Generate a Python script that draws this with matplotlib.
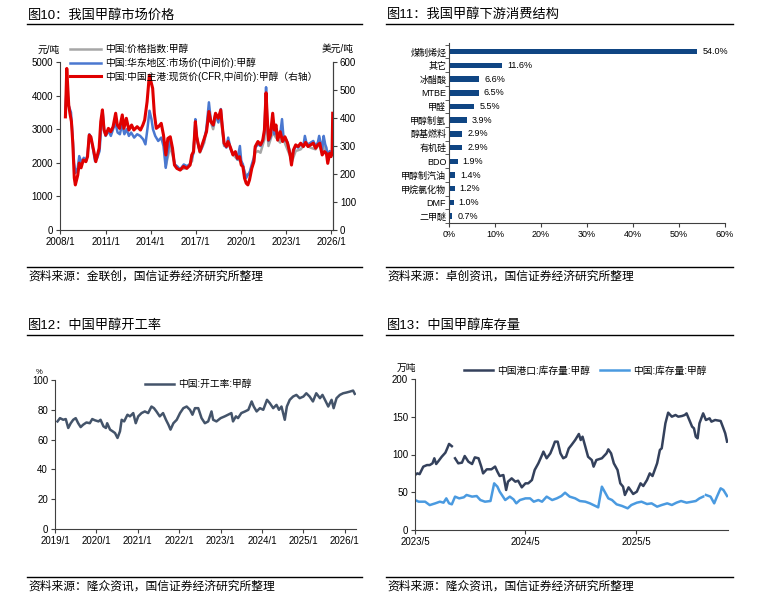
import numpy as np
import matplotlib
matplotlib.use('Agg')
import matplotlib.pyplot as plt
from matplotlib.lines import Line2D

plt.rcParams['font.family'] = ['Liberation Sans', 'Noto Sans CJK SC', 'DejaVu Sans']
plt.rcParams['axes.unicode_minus'] = False

W, H = 761, 602

# ---------------- data: 图10 price ----------------
red_x = [2008.33, 2008.42, 2008.55, 2008.63, 2008.73, 2008.82, 2008.92, 2008.99, 2009.15, 2009.25,
         2009.37, 2009.52, 2009.69, 2009.80, 2009.91, 2010.02, 2010.13, 2010.24, 2010.35, 2010.46,
         2010.57, 2010.68, 2010.79, 2010.90, 2011.01, 2011.19, 2011.34, 2011.50, 2011.67, 2011.78,
         2011.93, 2012.11, 2012.22, 2012.38, 2012.55, 2012.73, 2012.88, 2013.10, 2013.32, 2013.48,
         2013.60, 2013.76, 2013.91, 2014.02, 2014.13, 2014.24, 2014.37, 2014.52, 2014.70, 2014.85,
         2015.01, 2015.14, 2015.30, 2015.45, 2015.58, 2015.74, 2015.96, 2016.18, 2016.40, 2016.62,
         2016.73, 2016.85, 2016.97, 2017.06, 2017.17, 2017.27, 2017.38, 2017.56, 2017.71, 2017.87,
         2018.00, 2018.16, 2018.31, 2018.49, 2018.66, 2018.75, 2018.88, 2019.03, 2019.14, 2019.32,
         2019.47, 2019.63, 2019.76, 2019.91, 2020.02, 2020.13, 2020.24, 2020.35, 2020.46, 2020.57,
         2020.72, 2020.86, 2020.95, 2021.13, 2021.30, 2021.45, 2021.56, 2021.67, 2021.74, 2021.83,
         2021.96, 2022.11, 2022.22, 2022.33, 2022.44, 2022.61, 2022.77, 2022.92, 2023.10, 2023.27,
         2023.36, 2023.49, 2023.64, 2023.80, 2023.97, 2024.15, 2024.30, 2024.46, 2024.63, 2024.81,
         2024.96, 2025.11, 2025.24, 2025.40, 2025.55, 2025.68, 2025.77, 2025.90, 2025.99, 2026.06,
         2026.10]
red_usd = [404, 577, 446, 417, 387, 310, 186, 161, 196, 239,
           222, 250, 244, 262, 339, 333, 304, 275, 244, 268,
           292, 387, 429, 357, 339, 363, 351, 369, 417, 375,
           363, 411, 363, 399, 357, 375, 357, 369, 357, 375,
           393, 458, 553, 530, 506, 417, 363, 369, 381, 339,
           268, 327, 333, 292, 232, 220, 214, 227, 220, 232,
           268, 280, 387, 333, 304, 280, 298, 327, 351, 423,
           387, 375, 417, 399, 429, 375, 310, 298, 316, 292,
           268, 280, 256, 262, 232, 226, 185, 167, 161, 179,
           220, 244, 298, 316, 304, 321, 357, 490, 411, 321,
           339, 417, 357, 375, 321, 351, 316, 333, 310, 268,
           232, 286, 304, 298, 310, 298, 313, 298, 304, 310,
           292, 304, 310, 268, 280, 274, 238, 274, 262, 280,
           417]

blue_x = [2008.33, 2008.42, 2008.55, 2008.70, 2008.82, 2008.90, 2009.00, 2009.15, 2009.25, 2009.40,
          2009.55, 2009.70, 2009.80, 2009.92, 2010.02, 2010.15, 2010.30, 2010.45, 2010.60, 2010.70,
          2010.80, 2010.90, 2011.00, 2011.20, 2011.35, 2011.50, 2011.65, 2011.80, 2011.95, 2012.10,
          2012.25, 2012.40, 2012.55, 2012.70, 2012.90, 2013.10, 2013.30, 2013.50, 2013.65, 2013.78,
          2013.92, 2014.05, 2014.15, 2014.30, 2014.50, 2014.70, 2014.85, 2015.00, 2015.12, 2015.30,
          2015.45, 2015.60, 2015.75, 2015.95, 2016.20, 2016.40, 2016.60, 2016.75, 2016.85, 2016.97,
          2017.06, 2017.17, 2017.27, 2017.40, 2017.56, 2017.70, 2017.87, 2018.00, 2018.15, 2018.30,
          2018.50, 2018.66, 2018.76, 2018.88, 2019.03, 2019.15, 2019.32, 2019.47, 2019.63, 2019.76,
          2019.93, 2020.02, 2020.13, 2020.24, 2020.35, 2020.46, 2020.57, 2020.72, 2020.86, 2020.95,
          2021.13, 2021.30, 2021.45, 2021.56, 2021.67, 2021.74, 2021.83, 2021.96, 2022.11, 2022.22,
          2022.33, 2022.44, 2022.61, 2022.73, 2022.85, 2022.95, 2023.10, 2023.27, 2023.36, 2023.49,
          2023.64, 2023.80, 2023.97, 2024.15, 2024.25, 2024.35, 2024.46, 2024.63, 2024.81, 2024.96,
          2025.11, 2025.20, 2025.30, 2025.40, 2025.50, 2025.60, 2025.68, 2025.77, 2025.90, 2025.99,
          2026.06, 2026.10]
blue_cny = [3600, 4300, 3700, 3500, 2700, 2000, 1700, 1850, 2200, 2000,
            2150, 2050, 2250, 2850, 2750, 2450, 2050, 2150, 2350, 3000,
            3550, 3000, 2800, 2950, 2800, 3000, 3200, 2900, 2850, 3150,
            2850, 3000, 2800, 2900, 2750, 2850, 2800, 2700, 2550, 3000,
            3550, 3300, 3000, 2800, 2650, 2750, 2500, 1850, 2300, 2700,
            2350, 1950, 1900, 1800, 1950, 1900, 1950, 2150, 2300, 3300,
            2750, 2500, 2350, 2450, 2700, 3000, 3800, 3250, 3100, 3450,
            3200, 3600, 3100, 2550, 2450, 2750, 2400, 2250, 2300, 2100,
            2500, 2050, 1950, 1700, 1550, 1650, 1700, 1950, 2150, 2450,
            2550, 2500, 2650, 2900, 4250, 3300, 2650, 2750, 3300, 2850,
            3050, 2700, 2850, 3300, 2650, 2750, 2600, 2300, 2050, 2350,
            2500, 2450, 2550, 2500, 2800, 2600, 2550, 2600, 2650, 2500,
            2600, 2800, 2600, 2400, 2800, 2550, 2450, 2200, 2350, 2250,
            2350, 2400]

gray_x = [2015.00, 2015.30, 2015.60, 2015.95, 2016.40, 2016.75, 2016.97, 2017.27, 2017.56, 2017.87,
          2018.15, 2018.30, 2018.66, 2018.88, 2019.15, 2019.47, 2019.76, 2020.02, 2020.35, 2020.57,
          2020.86, 2020.95, 2021.13, 2021.30, 2021.56, 2021.67, 2021.74, 2021.83, 2022.11, 2022.33,
          2022.61, 2022.73, 2022.95, 2023.27, 2023.36, 2023.64, 2023.97, 2024.25, 2024.63, 2024.96,
          2025.20, 2025.40, 2025.50, 2025.77, 2025.99, 2026.10]
gray_cny = [1900, 2500, 1950, 1800, 1850, 2050, 3000, 2300, 2600, 3400,
            3000, 3300, 3350, 2500, 2600, 2250, 2100, 2050, 1600, 1700,
            2050, 2300, 2350, 2300, 2700, 3700, 3000, 2500, 2900, 2750,
            2600, 2850, 2550, 2200, 2000, 2350, 2400, 2550, 2450, 2400,
            2550, 2300, 2500, 2150, 2200, 2300]

price_labels = ['中国:价格指数:甲醇', '中国:华东地区:市场价(中间价):甲醇',
                '中国:中国主港:现货价(CFR,中间价):甲醇（右轴）']

# ---------------- data: 图11 downstream ----------------
uses = ['煤制烯烃', '其它', '冰醋酸', 'MTBE', '甲醛', '甲醇制氢', '醇基燃料',
        '有机硅', 'BDO', '甲醇制汽油', '甲烷氯化物', 'DMF', '二甲醚']
use_share = [54.0, 11.6, 6.6, 6.5, 5.5, 3.9, 2.9, 2.9, 1.9, 1.4, 1.2, 1.0, 0.7]

# ---------------- data: 图12 operating rate ----------------
rate_x = [2019.06, 2019.12, 2019.20, 2019.26, 2019.32, 2019.38, 2019.44, 2019.50, 2019.56, 2019.62,
          2019.68, 2019.76, 2019.84, 2019.90, 2019.96, 2020.05, 2020.10, 2020.17, 2020.23, 2020.26,
          2020.33, 2020.39, 2020.45, 2020.51, 2020.57, 2020.61, 2020.67, 2020.75, 2020.81, 2020.89,
          2020.95, 2021.01, 2021.09, 2021.17, 2021.25, 2021.33, 2021.39, 2021.45, 2021.53, 2021.61,
          2021.68, 2021.74, 2021.79, 2021.86, 2021.94, 2022.02, 2022.10, 2022.18, 2022.26, 2022.32,
          2022.38, 2022.46, 2022.54, 2022.62, 2022.70, 2022.78, 2022.82, 2022.90, 2023.00, 2023.10,
          2023.18, 2023.26, 2023.30, 2023.37, 2023.42, 2023.50, 2023.59, 2023.67, 2023.75, 2023.80,
          2023.87, 2023.95, 2024.03, 2024.12, 2024.19, 2024.27, 2024.35, 2024.41, 2024.47, 2024.55,
          2024.60, 2024.67, 2024.75, 2024.83, 2024.91, 2025.00, 2025.07, 2025.15, 2025.23, 2025.31,
          2025.40, 2025.46, 2025.54, 2025.60, 2025.68, 2025.73, 2025.80, 2025.88, 2025.96, 2026.04,
          2026.12, 2026.20, 2026.24]
rate_val = [72.2, 74.4, 73.3, 73.8, 67.8, 71.0, 73.3, 74.4, 71.0, 68.4,
            70.0, 71.5, 71.0, 73.8, 73.0, 72.2, 73.3, 68.9, 67.8, 71.0,
            66.7, 65.6, 64.4, 61.1, 65.6, 73.3, 72.2, 76.7, 75.6, 77.8,
            71.0, 75.6, 77.8, 78.9, 77.8, 82.2, 81.1, 78.9, 75.6, 77.8,
            73.3, 70.0, 66.7, 71.0, 73.3, 77.8, 81.1, 82.2, 80.0, 76.7,
            81.1, 81.1, 74.4, 71.0, 72.2, 78.9, 73.3, 72.2, 74.4, 75.6,
            76.7, 77.8, 72.2, 75.6, 74.4, 77.8, 78.9, 80.0, 85.6, 82.2,
            78.9, 81.1, 80.0, 86.7, 84.4, 81.1, 83.3, 80.0, 82.2, 73.3,
            82.2, 86.7, 88.9, 90.0, 87.8, 88.9, 91.1, 88.9, 85.6, 91.1,
            87.8, 90.0, 85.6, 82.2, 86.7, 81.1, 87.8, 90.0, 91.1, 91.6,
            92.2, 92.9, 90.7]

# ---------------- data: 图13 inventory (months since 2023/5) ----------------
port_m = [0.0, 0.25, 0.5, 0.9, 1.3, 1.6, 1.9, 2.1, 2.3, 2.5,
          2.9, 3.3, 3.5, 3.7, 4.0, 4.2, 4.35, 4.7, 5.1, 5.4,
          5.8, 6.2, 6.5, 6.9, 7.2, 7.4, 7.8, 8.3, 8.7, 8.95,
          9.2, 9.6, 9.9, 10.1, 10.5, 10.9, 11.2, 11.6, 12.0, 12.3,
          12.7, 13.0, 13.4, 13.8, 13.95, 14.3, 14.7, 15.0, 15.2, 15.5,
          15.8, 16.1, 16.4, 16.7, 17.0, 17.4, 17.8, 18.0, 18.2, 18.5,
          18.8, 19.2, 19.4, 19.7, 20.3, 20.8, 21.0, 21.3, 21.6, 22.0,
          22.3, 22.6, 22.8, 23.2, 23.4, 23.7, 24.1, 24.5, 24.8, 25.2,
          25.5, 25.8, 26.3, 26.6, 26.8, 27.2, 27.5, 27.9, 28.3, 28.6,
          29.0, 29.3, 29.5, 29.8, 30.1, 30.3, 30.5, 30.7, 30.9, 31.3,
          31.6, 32.0, 32.2, 32.6, 33.2, 33.5, 33.7, 33.9]
port_val = [72.8, 75.0, 74.0, 83.9, 86.0, 86.0, 88.3, 95.0, 87.4, 90.5,
            97.0, 102.4, 108.0, 114.0, 111.0, np.nan, 95.0, 88.3, 89.2, 98.0,
            90.5, 87.4, 96.2, 95.0, 83.9, 75.0, 80.4, 80.4, 84.0, 77.3,
            71.5, 72.8, 53.0, 64.0, 68.4, 64.0, 65.3, 56.5, 61.8, 61.8,
            66.2, 79.5, 88.3, 99.3, 103.8, 95.0, 101.5, 110.4, 117.0, 117.0,
            101.5, 95.0, 97.0, 108.0, 112.6, 119.2, 127.2, 119.2, 123.6, 110.4,
            97.0, 92.7, 83.9, 92.7, 95.0, 101.5, 106.8, 101.5, 88.3, 79.5,
            61.8, 57.4, 46.4, 56.5, 53.0, 47.7, 50.8, 61.8, 58.3, 66.2,
            75.0, 71.5, 88.3, 106.0, 108.2, 141.3, 155.4, 150.1, 152.3, 150.1,
            151.0, 152.3, 154.5, 145.7, 136.9, 134.7, 123.6, 121.4, 141.3, 154.5,
            145.7, 147.9, 143.5, 145.7, 144.4, 134.7, 128.0, 117.0]

nat_m = [0.0, 0.4, 1.1, 1.6, 2.2, 2.7, 3.1, 3.4, 3.7, 4.0,
         4.35, 4.8, 5.3, 5.6, 6.2, 6.7, 7.1, 7.6, 8.2, 8.6,
         8.95, 9.2, 9.8, 10.3, 10.7, 11.0, 11.4, 12.0, 12.5, 12.9,
         13.4, 13.8, 14.3, 14.9, 15.4, 15.9, 16.3, 16.8, 17.4, 17.9,
         18.5, 19.0, 19.6, 19.9, 20.3, 20.7, 21.0, 21.4, 21.9, 22.5,
         23.1, 23.5, 24.1, 24.6, 25.2, 25.7, 26.3, 26.8, 27.4, 27.9,
         28.4, 28.9, 29.5, 30.1, 30.5, 30.9, 31.3, 31.45, 31.6, 32.1,
         32.5, 32.8, 33.2, 33.5, 33.9]
nat_val = [39.7, 37.5, 37.5, 33.0, 35.3, 37.5, 36.2, 41.9, 35.3, 34.0,
           44.2, 41.9, 43.3, 46.4, 44.2, 45.0, 39.7, 37.5, 38.4, 61.8,
           57.4, 50.8, 39.7, 44.2, 40.6, 35.3, 39.7, 41.9, 41.9, 37.5,
           39.7, 37.5, 44.2, 39.7, 41.9, 45.0, 49.4, 44.2, 41.9, 38.4,
           37.5, 35.3, 31.8, 30.0, 57.4, 48.6, 41.9, 39.7, 34.0, 31.8,
           28.7, 33.1, 36.2, 37.5, 34.4, 35.3, 30.9, 33.1, 35.3, 33.1,
           36.2, 38.4, 36.2, 37.5, 38.4, 41.9, 44.2, np.nan, 46.4, 44.2,
           35.3, 44.2, 55.2, 53.0, 45.0]

inv_labels = ['中国港口:库存量:甲醇', '中国:库存量:甲醇']


def px_axes(fig, l, t, r, b):
    return fig.add_axes([l / W, 1 - b / H, (r - l) / W, (b - t) / H])


def fig_text(fig, x, y, s, **kw):
    fig.text(x / W, 1 - y / H, s, **kw)


def fig_rule(fig, x0, x1, y):
    fig.add_artist(Line2D([x0 / W, x1 / W], [1 - y / H, 1 - y / H],
                          transform=fig.transFigure, color='black', lw=1.0))


def style_axis(ax, sides=('left', 'bottom')):
    for s in ['left', 'right', 'top', 'bottom']:
        ax.spines[s].set_visible(s in sides)
        ax.spines[s].set_color('#404040')
        ax.spines[s].set_linewidth(0.8)
    ax.tick_params(labelsize=7, length=3, width=0.8, color='#404040', pad=2)
    ax.set_facecolor('none')


fig = plt.figure(figsize=(W / 100, H / 100), dpi=100)

# frame lines, titles and sources
panels = [(27, 362, 24, 267, 15, 277, '图10：我国甲醇市场价格', '资料来源：金联创，国信证券经济研究所整理'),
          (386, 733, 24, 267, 15, 277, '图11：我国甲醇下游消费结构', '资料来源：卓创资讯，国信证券经济研究所整理'),
          (27, 362, 335, 577, 326, 587, '图12：中国甲醇开工率', '资料来源：隆众资讯，国信证券经济研究所整理'),
          (386, 733, 335, 577, 326, 587, '图13：中国甲醇库存量', '资料来源：隆众资讯，国信证券经济研究所整理')]
for x0, x1, ytop, ybot, ytitle, ysrc, title, src in panels:
    fig_rule(fig, x0, x1, ytop)
    fig_rule(fig, x0, x1, ybot)
    fig_text(fig, x0 + 1, ytitle, title, fontsize=9.5, va='center', ha='left')
    fig_text(fig, x0 + 1, ysrc, src, fontsize=8.5, va='center', ha='left')

# ---- 图10 ----
ax1 = px_axes(fig, 60, 62, 333, 230)
style_axis(ax1, ('left', 'bottom', 'right'))
h_gray, = ax1.plot(gray_x, gray_cny, color='#A6A6A6', lw=1.8)
h_blue, = ax1.plot(blue_x, blue_cny, color='#4A78D0', lw=1.8)
ax1.set_ylim(0, 5000)
ax1.set_yticks(range(0, 5001, 1000))
ax1.set_xlim(2007.97, 2026.12)
ax1.set_xticks(range(2008, 2027, 3))
ax1.set_xticklabels([f'{y}/1' for y in range(2008, 2027, 3)])
ax1b = ax1.twinx()
style_axis(ax1b, ('right',))
h_red, = ax1b.plot(red_x, red_usd, color='#E00000', lw=2.2)
ax1b.set_ylim(0, 600)
ax1b.set_yticks(range(0, 601, 100))
ax1b.legend([h_gray, h_blue, h_red], price_labels, loc='upper left',
            bbox_to_anchor=(0.022, 1.13), frameon=False, fontsize=7,
            handlelength=3.2, handletextpad=0.4, labelspacing=0.35, borderaxespad=0)
fig_text(fig, 49, 50, '元/吨', fontsize=7, ha='center', va='center')
fig_text(fig, 338, 49, '美元/吨', fontsize=7, ha='center', va='center')

# ---- 图11 ----
ax2 = px_axes(fig, 449, 43, 725, 223)
style_axis(ax2, ('left', 'bottom'))
pos = np.arange(len(uses))
ax2.barh(pos, use_share, height=0.4, color='#0F4583')
for p, v in zip(pos, use_share):
    ax2.text(v + 1.1, p, f'{v:.1f}%', va='center', ha='left', fontsize=6.5)
ax2.set_ylim(12.46, -0.63)
ax2.set_xlim(0, 60)
ax2.set_yticks(pos)
ax2.set_yticklabels(uses, fontsize=6.5)
ax2.tick_params(axis='y', length=0)
ax2.set_yticks(np.arange(-0.5, 12.6, 1), minor=True)
ax2.tick_params(axis='y', which='minor', length=3, color='#404040')
ax2.set_xticks(range(0, 61, 10))
ax2.set_xticklabels([f'{v}%' for v in range(0, 61, 10)], fontsize=6.5)

# ---- 图12 ----
ax3 = px_axes(fig, 55, 380, 356, 529)
style_axis(ax3, ('left', 'bottom'))
ax3.plot(rate_x, rate_val, color='#44546A', lw=1.8, label='中国:开工率:甲醇')
ax3.set_ylim(0, 100)
ax3.set_yticks(range(0, 101, 20))
ax3.set_xlim(2019.0, 2026.27)
ax3.set_xticks(range(2019, 2027))
ax3.set_xticklabels([f'{y}/1' for y in range(2019, 2027)])
ax3.legend(loc='upper left', bbox_to_anchor=(0.285, 1.03), frameon=False, fontsize=7,
           handlelength=3.0, handletextpad=0.4, borderaxespad=0)
fig_text(fig, 39, 372, '%', fontsize=5.5, ha='center', va='center')

# ---- 图13 ----
ax4 = px_axes(fig, 415, 379, 728, 530)
style_axis(ax4, ('left', 'bottom'))
ax4.plot(port_m, port_val, color='#34415C', lw=1.8, label=inv_labels[0])
ax4.plot(nat_m, nat_val, color='#4A9AE0', lw=1.8, label=inv_labels[1])
ax4.set_ylim(0, 200)
ax4.set_yticks(range(0, 201, 50))
ax4.set_xlim(0, 34.0)
ax4.set_xticks([0, 12, 24])
ax4.set_xticklabels(['2023/5', '2024/5', '2025/5'])
ax4.legend(loc='upper left', bbox_to_anchor=(0.145, 1.115), frameon=False, fontsize=7, ncol=2,
           handlelength=3.0, handletextpad=0.4, columnspacing=1.0, borderaxespad=0)
fig_text(fig, 406, 368, '万吨', fontsize=7, ha='center', va='center')

fig.savefig('out.png', dpi=100)
